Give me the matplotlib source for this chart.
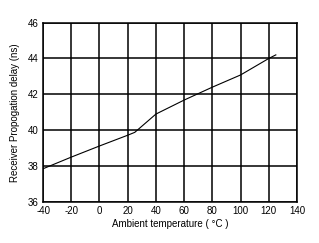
import matplotlib
matplotlib.use("Agg")
import matplotlib.pyplot as plt

# data
temps = [-40, -20, 0, 20, 25, 40, 60, 80, 100, 120, 125]
delay = [37.85, 38.5, 39.12, 39.72, 39.88, 40.9, 41.68, 42.4, 43.08, 44.0, 44.2]

x_ticks = [-40, -20, 0, 20, 40, 60, 80, 100, 120, 140]
y_ticks = [36, 38, 40, 42, 44, 46]

plt.rcParams['font.family'] = ['Liberation Sans', 'DejaVu Sans']
plt.rcParams['axes.unicode_minus'] = False

fig = plt.figure(figsize=(3.19, 2.43), dpi=100)
ax = fig.add_axes([0.135, 0.169, 0.796, 0.738])

ax.plot(temps, delay, color='black', linewidth=0.8)

ax.set_xlim(-40, 140)
ax.set_ylim(36, 46)
ax.set_xticks(x_ticks)
ax.set_yticks(y_ticks)
ax.tick_params(length=0, labelsize=7, pad=3)
ax.grid(True, color='black', linewidth=1.1)
for s in ax.spines.values():
    s.set_linewidth(1.1)

ax.set_xlabel("Ambient temperature ( °C )", fontsize=7, labelpad=2)
ax.set_ylabel("Receiver Propogation delay (ns)", fontsize=7, labelpad=6)

fig.savefig("out.png", dpi=100)
